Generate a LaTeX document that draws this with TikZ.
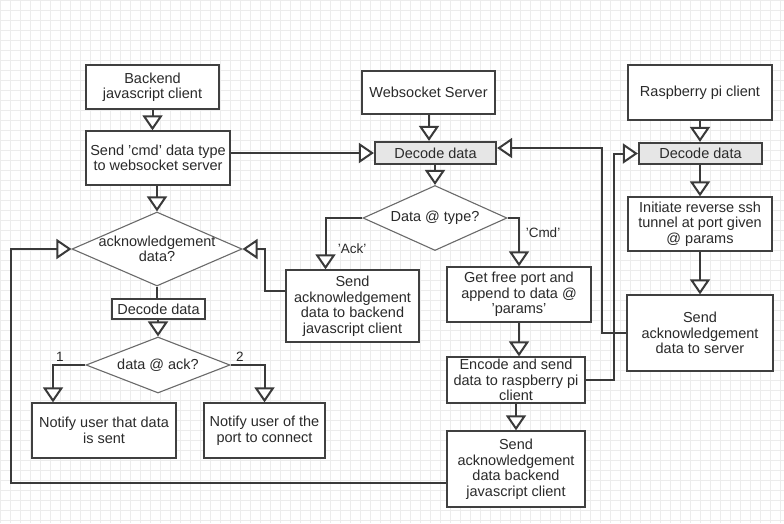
\documentclass[tikz,border=0pt]{standalone}
\usepackage{fontspec}
\setmainfont{Liberation Sans}
\usetikzlibrary{arrows.meta,shapes.geometric}
\definecolor{linec}{HTML}{3A3A3A}
\definecolor{boxc}{HTML}{404040}
\definecolor{diac}{HTML}{6A6A6A}
\definecolor{txt}{HTML}{2A2A2A}
\definecolor{decfill}{HTML}{E6E6E6}
\definecolor{gridc}{HTML}{ECECEC}
\begin{document}
\begin{tikzpicture}[x=1pt,y=-1pt,
  box/.style={draw=boxc, line width=1.3pt, fill=white, rectangle, inner sep=0pt, align=center, font=\fontsize{14.5}{15.5}\selectfont, text=txt},
  decbox/.style={box, fill=decfill, line width=2.2pt},
  dia/.style={draw=diac, line width=1.1pt, fill=white, diamond, inner sep=0pt},
  txtnode/.style={font=\fontsize{14.5}{15.5}\selectfont, text=txt, align=center, inner sep=0pt},
  elbl/.style={font=\fontsize{13.5}{15}\selectfont, text=txt, inner sep=0pt},
  conn/.style={draw=linec, line width=2pt},
  arr/.style={conn, -{Triangle[fill=white, length=15pt, width=20pt]}}
]
\useasboundingbox (0,0) rectangle (784,523);
\fill[white] (0,0) rectangle (784,523);
\draw[gridc, line width=0.5pt, step=10pt] (0,0) grid (784,523);

% left column
\node[box, minimum width=133pt, minimum height=44pt] (backend) at (152.5,87) {Backend\\javascript client};
\node[box, minimum width=144pt, minimum height=54pt] (sendcmd) at (158,158) {Send 'cmd' data type\\to websocket server};
\node[dia, minimum width=170pt, minimum height=74pt] (ack) at (157,249) {};
\node[txtnode] (acktext) at (ack.center) {acknowledgement\\data?};
\node[box, minimum width=93pt, minimum height=20pt] (decL) at (158.5,309) {Decode data};
\node[dia, minimum width=144pt, minimum height=56pt] (dack) at (158,365) {};
\node[txtnode] (dacktext) at (dack.center) {data @ ack?};
\node[box, minimum width=144pt, minimum height=55pt] (notify1) at (104,430.5) {Notify user that data\\is sent};
\node[box, minimum width=121pt, minimum height=55pt] (notify2) at (264.5,430.5) {Notify user of the\\port to connect};

% middle column
\node[box, minimum width=133pt, minimum height=43pt] (ws) at (428.5,92.5) {Websocket Server};
\node[decbox, minimum width=121pt, minimum height=22pt] (decC) at (435.5,153) {Decode data};
\node[dia, minimum width=144pt, minimum height=65pt] (dtype) at (435,218) {};
\node[txtnode] (dtypetext) at (dtype.center) {Data @ type?};
\node[box, minimum width=133pt, minimum height=72pt] (sack1) at (352.5,306) {Send\\acknowledgement\\data to backend\\javascript client};
\node[box, minimum width=144pt, minimum height=55pt] (getport) at (519,294.5) {Get free port and\\append to data @\\'params'};
\node[box, minimum width=138pt, minimum height=46pt] (encode) at (516,380) {Encode and send\\data to raspberry pi\\client};
\node[box, minimum width=138pt, minimum height=76pt] (sack2) at (516,469) {Send\\acknowledgement\\data backend\\javascript client};

% right column
\node[box, minimum width=144pt, minimum height=55pt] (rpi) at (700,92.5) {Raspberry pi client};
\node[decbox, minimum width=123pt, minimum height=21pt] (decR) at (700.5,153.5) {Decode data};
\node[box, minimum width=144pt, minimum height=54pt] (init) at (700,224) {Initiate reverse ssh\\tunnel at port given\\@ params};
\node[box, minimum width=146pt, minimum height=76pt] (ssrv) at (700,333) {Send\\acknowledgement\\data to server};

% connectors
\draw[arr] (backend.south) -- (backend.south |- sendcmd.north);
\draw[arr] (sendcmd.south -| ack.north) -- (ack.north);
\draw[arr] (sendcmd.east |- decC.west) -- (decC.west);
\draw[conn] (ack.south) -- (ack.south |- decL.north);
\draw[arr] (decL.south -| dack.north) -- (dack.north);
\draw[arr] (dack.west) -| ([xshift=-51pt]notify1.north);
\draw[arr] (dack.east) -| (notify2.north);

\draw[arr] (ws.south -| 429,0) -- (429,0 |- decC.north);
\draw[arr] (decC.south -| dtype.north) -- (dtype.north);
\draw[arr] (dtype.west) -| ([xshift=-27pt]sack1.north);
\draw[arr] (dtype.east) -| (getport.north);
\draw[arr] (getport.south) -- (getport.south |- encode.north);
\draw[arr] (encode.south) -- (encode.south |- sack2.north);

\draw[arr] (rpi.south) -- (rpi.south |- decR.north);
\draw[arr] (decR.south -| init.north) -- (init.north);
\draw[arr] (init.south) -- (init.south |- ssrv.north);

\draw[arr] (encode.east) -- ++(28,0) |- (decR.west);
\draw[arr] (ssrv.west) -- ++(-24,0) |- ([yshift=5pt]decC.east);
\draw[arr] ([yshift=15pt]sack1.west) -- ++(-20,0) |- (ack.east);
\draw[arr] ([yshift=-14pt]sack2.west) -- ++(-435,0) |- (ack.west);

% labels
\node[elbl] (lack) at (352,249) {'Ack'};
\node[elbl] (lcmd) at (543,233) {'Cmd'};
\node[elbl] (l1) at (60,357) {1};
\node[elbl] (l2) at (240,357) {2};
\end{tikzpicture}
\end{document}
